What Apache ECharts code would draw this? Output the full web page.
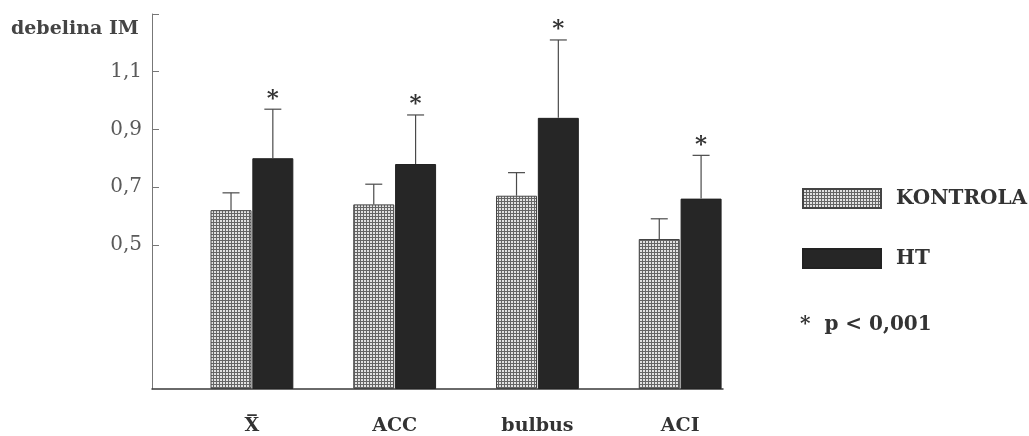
<!DOCTYPE html>
<html>
<head>
<meta charset="utf-8">
<script src="https://cdn.jsdelivr.net/npm/echarts@6/dist/echarts.min.js"></script>
<style>
  html, body { margin: 0; padding: 0; background: #fff; }
  #chart { width: 1029px; height: 436px; }
</style>
</head>
<body>
<div id="chart"></div>
<script>
// Intima-media thickness by site, control vs. HT group (mean + SD)
const categories = ['X\u0305', 'ACC', 'bulbus', 'ACI'];
const kontrolaMean = [0.62, 0.64, 0.67, 0.52];
const kontrolaSD = [0.06, 0.07, 0.08, 0.07];
const htMean = [0.80, 0.78, 0.94, 0.66];
const htSD = [0.17, 0.17, 0.27, 0.15];
const sigMarks = ['*', '*', '*', '*'];
const yTickValues = [0.5, 0.7, 0.9, 1.1];
const yTickLabels = ['0,5', '0,7', '0,9', '1,1'];
const yTickMarks = [0.5, 0.7, 0.9, 1.1, 1.3];

const SERIF = '"DejaVu Serif", "Liberation Serif", serif';
const BAR_W = 41;
const BAR_GAP = 0.02;

// fine crosshatch fill for the control bars
function hatchPattern() {
  const c = document.createElement('canvas');
  c.width = 3; c.height = 3;
  const g = c.getContext('2d');
  g.fillStyle = '#e2e2e2';
  g.fillRect(0, 0, 3, 3);
  g.fillStyle = '#666666';
  g.fillRect(0, 0, 3, 1);
  g.fillRect(0, 0, 1, 3);
  return c;
}

const pos = categories.map((_, i) => i + 1);

function errorSeries(name, means, sds, side, marks) {
  return {
    type: 'custom',
    name: name,
    z: 5,
    silent: true,
    data: means.map((m, i) => [pos[i], m, sds[i]]),
    renderItem: function (params, api) {
      const x = api.value(0), m = api.value(1), sd = api.value(2);
      const base = api.coord([x, m]);
      const top = api.coord([x, m + sd]);
      const cx = base[0] + side * (BAR_W / 2 + BAR_W * BAR_GAP / 2);
      const stroke = { stroke: '#4a4a4a', lineWidth: 1.2 };
      const children = [
        { type: 'line', shape: { x1: cx, y1: base[1], x2: cx, y2: top[1] }, style: stroke },
        { type: 'line', shape: { x1: cx - 8.5, y1: top[1], x2: cx + 8.5, y2: top[1] }, style: stroke }
      ];
      if (marks) {
        children.push({
          type: 'text',
          style: {
            text: marks[params.dataIndex], x: cx, y: top[1] + 1,
            align: 'center', verticalAlign: 'bottom',
            fontFamily: SERIF, fontWeight: 'bold', fontSize: 23, fill: '#333'
          }
        });
      }
      return { type: 'group', children: children };
    }
  };
}

const chart = echarts.init(document.getElementById('chart'), null, { renderer: 'canvas' });
chart.setOption({
  backgroundColor: '#ffffff',
  animation: false,
  title: [
    {
      text: 'debelina IM', left: 6, top: 15,
      textStyle: { fontFamily: SERIF, fontWeight: 'bold', fontSize: 19, color: '#444' }
    },
    {
      text: '*  p < 0,001', left: 795, top: 310,
      textStyle: { fontFamily: SERIF, fontWeight: 'bold', fontSize: 20, color: '#333' }
    }
  ],
  legend: {
    data: ['KONTROLA', 'HT'],
    orient: 'vertical',
    left: 797, top: 183,
    itemWidth: 78, itemHeight: 19, itemGap: 39,
    icon: 'rect',
    selectedMode: false,
    textStyle: { fontFamily: SERIF, fontWeight: 'bold', fontSize: 20, color: '#333', padding: [0, 0, 0, 10] }
  },
  grid: { left: 152, right: 306, top: 14, bottom: 46, containLabel: false },
  xAxis: {
    type: 'value',
    min: 0.3, max: 4.3,
    splitLine: { show: false },
    axisTick: { show: false },
    axisLine: { show: true, lineStyle: { color: '#3a3a3a', width: 1.5 } },
    axisLabel: {
      customValues: pos,
      formatter: v => categories[Math.round(v) - 1] || '',
      margin: 28,
      fontFamily: SERIF, fontWeight: 'bold', fontSize: 19, color: '#333'
    }
  },
  yAxis: {
    type: 'value',
    min: 0, max: 1.3,
    splitLine: { show: false },
    axisLine: { show: true, lineStyle: { color: '#777', width: 1 } },
    axisTick: { show: true, inside: true, length: 7, customValues: yTickMarks, lineStyle: { color: '#777' } },
    axisLabel: {
      customValues: yTickValues,
      formatter: v => {
        const i = yTickValues.findIndex(t => Math.abs(t - v) < 1e-6);
        return i >= 0 ? yTickLabels[i] : '';
      },
      margin: 10,
      fontFamily: SERIF, fontSize: 20, color: '#5a5a5a'
    }
  },
  series: [
    {
      name: 'KONTROLA',
      type: 'bar',
      barWidth: BAR_W,
      barGap: (BAR_GAP * 100) + '%',
      data: kontrolaMean.map((v, i) => [pos[i], v]),
      itemStyle: {
        color: { image: hatchPattern(), repeat: 'repeat' },
        borderColor: '#444', borderWidth: 1
      }
    },
    {
      name: 'HT',
      type: 'bar',
      barWidth: BAR_W,
      data: htMean.map((v, i) => [pos[i], v]),
      itemStyle: { color: '#262626', borderColor: '#222', borderWidth: 1 }
    },
    errorSeries('KONTROLA SD', kontrolaMean, kontrolaSD, -1, null),
    errorSeries('HT SD', htMean, htSD, 1, sigMarks)
  ]
});
</script>
</body>
</html>
